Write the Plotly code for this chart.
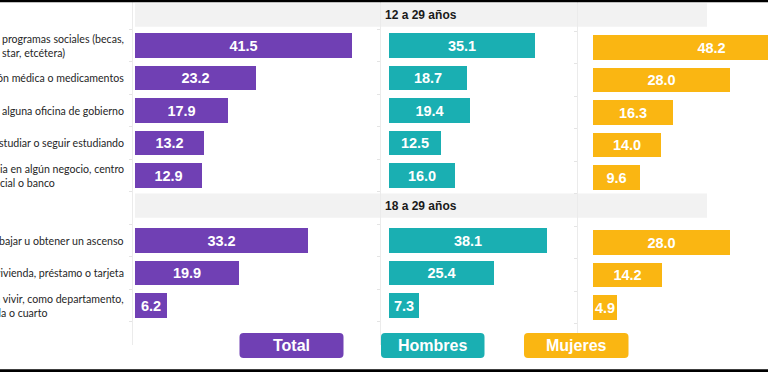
import plotly.graph_objects as go

W, H = 768, 372

# ---------------- data ----------------
categories = [
    "programas sociales (becas,<br>star, etcétera)",
    "ón médica o medicamentos",
    "alguna oficina de gobierno",
    "studiar o seguir estudiando",
    "ia en algún negocio, centro<br>cial o banco",
    "bajar u obtener un ascenso",
    "vivienda, préstamo o tarjeta",
    "a vivir, como departamento,<br>da o cuarto",
]
group_titles = ["12 a 29 años", "18 a 29 años"]
group_sizes = [5, 3]
total = [41.5, 23.2, 17.9, 13.2, 12.9, 33.2, 19.9, 6.2]
hombres = [35.1, 18.7, 19.4, 12.5, 16.0, 38.1, 25.4, 7.3]
mujeres = [48.2, 28.0, 16.3, 14.0, 9.6, 28.0, 14.2, 4.9]
series_names = ["Total", "Hombres", "Mujeres"]

# ---------------- style ----------------
COLORS = ["#7040B4", "#1AAFB2", "#FAB612"]
LAB = "Lato, Roboto, Liberation Sans, Arial, sans-serif"
REG = "Liberation Sans, Arial, sans-serif"


def fx(p):
    return p / W


def fy(p):
    return 1 - p / H


# slot positions: each group has a header slot, then its rows
slots = []
header_slots = []
s = 0
for g, n in enumerate(group_sizes):
    header_slots.append(s)
    s += 1
    for _ in range(n):
        slots.append(s)
        s += 1

# y axis: value v sits at pixel 13 + 32.5*v
PITCH, Y0PX = 32.5, 13.0
BOT = 345.0
yrange = [(BOT - Y0PX) / PITCH, (0 - Y0PX) / PITCH]

# x panels: (axis-line pixel, zero pixel, px per unit, domain end pixel)
panels = [
    (133.0, 135.0, 5.22, 381.0),
    (381.0, 389.0, 4.15, 577.0),
    (578.0, 592.5, 4.92, 768.0),
]
y_shift = [0.0, 0.0, 2.0]

fig = go.Figure()
vals = [total, hombres, mujeres]
for i, (name, v, col) in enumerate(zip(series_names, vals, COLORS)):
    sfx = "" if i == 0 else str(i + 1)
    fig.add_trace(go.Bar(
        x=v, y=slots, orientation="h", name=name,
        marker=dict(color=col, line=dict(width=0)),
        width=0.75,
        texttemplate="%{x:.1f}", textposition="inside", textangle=0,
        insidetextanchor="middle", constraintext="none",
        textfont=dict(family=REG, size=14.5, color="white", weight=700),
        xaxis="x" + sfx, yaxis="y" + sfx, showlegend=False,
        hoverinfo="skip",
    ))

layout = dict(
    width=W, height=H, margin=dict(l=0, r=0, t=0, b=0),
    paper_bgcolor="white", plot_bgcolor="rgba(0,0,0,0)",
    bargap=0, showlegend=False,
)
for i, (line_px, zero_px, scale, end_px) in enumerate(panels):
    sfx = "" if i == 0 else str(i + 1)
    layout["xaxis" + sfx] = dict(
        domain=[fx(line_px), fx(end_px)],
        range=[(line_px - zero_px) / scale, (end_px - zero_px) / scale],
        visible=False, fixedrange=True,
        anchor="y" + sfx,
    )
    sh = y_shift[i]
    layout["yaxis" + sfx] = dict(
        domain=[fy(BOT + sh), fy(0 + sh)],
        range=yrange, fixedrange=True,
        showgrid=False, zeroline=False, showticklabels=False,
        showline=True, linecolor="#EBEBEB", linewidth=1,
        ticks="outside", ticklen=3, tickcolor="#E4E4E4",
        tickvals=[sl + 0.5 for sl in slots] + [sl - 0.5 for sl in slots],
        anchor="x" + sfx,
    )
fig.update_layout(**layout)

shapes = []
annotations = []

# header bands
band_ys = [(-0.3, 0.42), (5.55, 6.3)]
for (y0, y1), title in zip(band_ys, group_titles):
    shapes.append(dict(type="rect", xref="paper", yref="y", x0=fx(135), x1=fx(707),
                       y0=y0, y1=y1, fillcolor="#F2F2F2", line=dict(width=0), layer="below"))
    annotations.append(dict(text=title, xref="paper", yref="y", x=fx(421), y=(y0 + y1) / 2,
                            xanchor="center", yanchor="middle", showarrow=False,
                            font=dict(family=REG, size=12, color="#1A1A1A", weight=700)))

# category labels
for cat, sl in zip(categories, slots):
    annotations.append(dict(text=cat, xref="paper", yref="y", x=fx(126), y=sl,
                            xanchor="right", yanchor="middle", align="left", showarrow=False,
                            font=dict(family=LAB, size=10.6, color="#262626")))

# legend boxes
boxes = [(239.5, 343.5), (381.0, 484.5), (524.0, 628.5)]
by0, by1 = 333.0, 358.0
r = 4.0
for (x0, x1), name, col in zip(boxes, series_names, COLORS):
    X0, X1 = fx(x0), fx(x1)
    Yt, Yb = fy(by0), fy(by1)
    rx, ry = r / W, r / H
    path = (f"M {X0+rx},{Yt} L {X1-rx},{Yt} Q {X1},{Yt} {X1},{Yt-ry} "
            f"L {X1},{Yb+ry} Q {X1},{Yb} {X1-rx},{Yb} L {X0+rx},{Yb} "
            f"Q {X0},{Yb} {X0},{Yb+ry} L {X0},{Yt-ry} Q {X0},{Yt} {X0+rx},{Yt} Z")
    shapes.append(dict(type="path", xref="paper", yref="paper", path=path,
                       fillcolor=col, line=dict(width=0)))
    annotations.append(dict(text=name, xref="paper", yref="paper", x=(X0 + X1) / 2,
                            y=(Yt + Yb) / 2, xanchor="center", yanchor="middle", showarrow=False,
                            font=dict(family=REG, size=16, color="white", weight=700)))

# black frame strips (top and bottom of the screenshot)
shapes.append(dict(type="rect", xref="paper", yref="paper", x0=0, x1=1, y0=fy(2.2), y1=1,
                   fillcolor="black", line=dict(width=0)))
shapes.append(dict(type="rect", xref="paper", yref="paper", x0=0, x1=1, y0=0, y1=fy(369.3),
                   fillcolor="black", line=dict(width=0)))

fig.update_layout(shapes=shapes, annotations=annotations)
fig.write_html("out.html", config={"displayModeBar": False},
               post_script="document.body.style.margin='0';document.body.style.overflow='hidden';")
